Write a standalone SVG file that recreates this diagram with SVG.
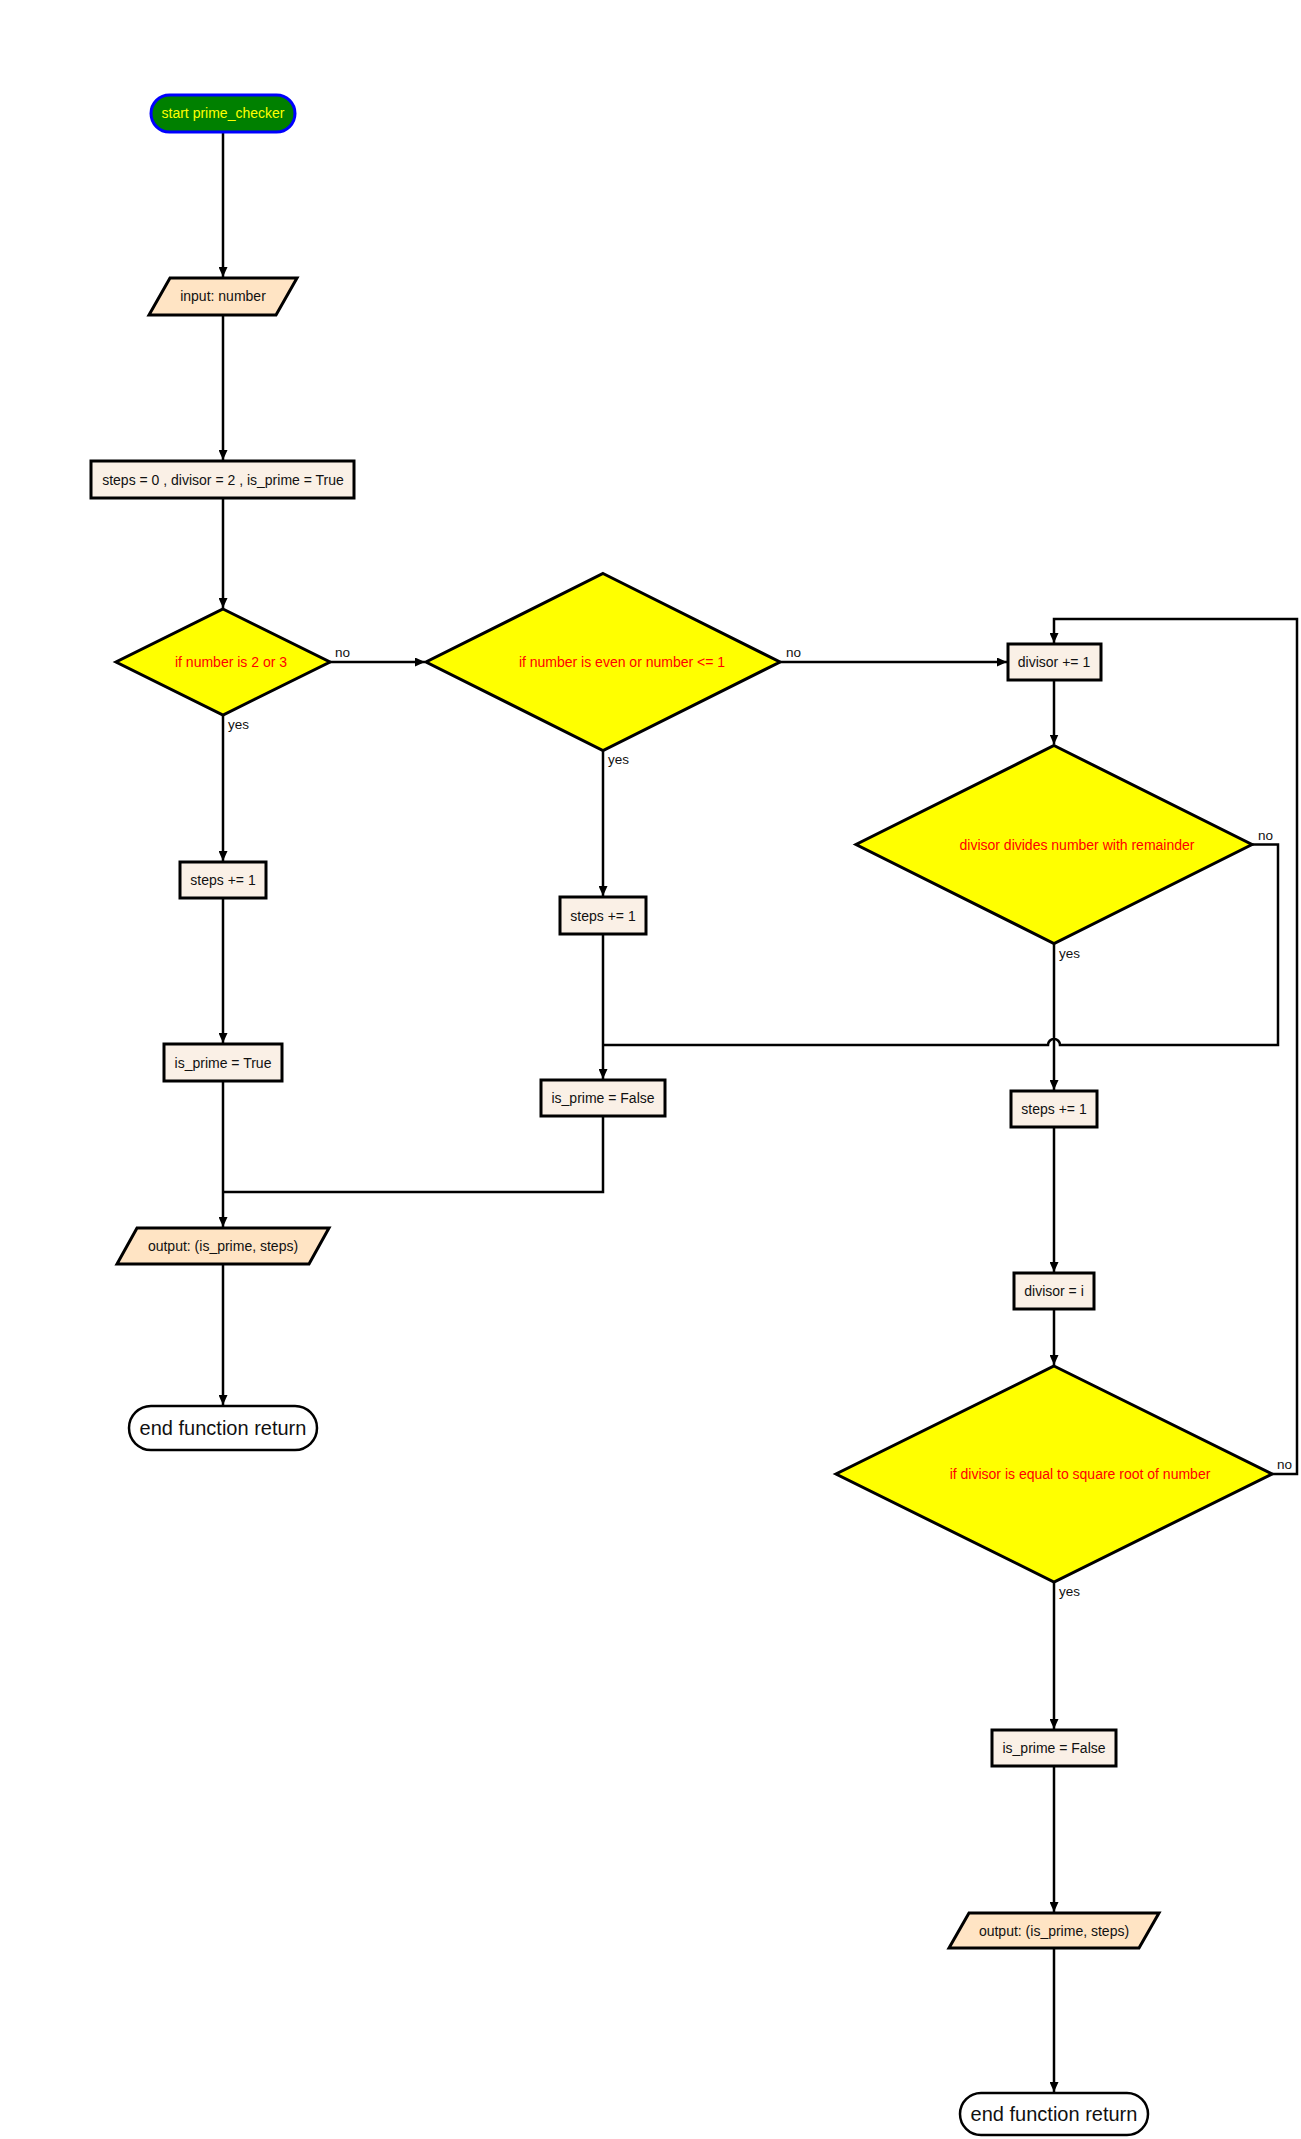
<svg xmlns="http://www.w3.org/2000/svg" width="1301" height="2139" viewBox="0 0 1301 2139">
  <style>
    .bg { fill: #ffffff; }
    .edge { fill: none; stroke: #000000; stroke-width: 2.5; }
    .proc { fill: #faf0e6; stroke: #000000; stroke-width: 3; }
    .io { fill: #ffe4c4; stroke: #000000; stroke-width: 3; }
    .dec { fill: #ffff00; stroke: #000000; stroke-width: 3; }
    .term-start { fill: #008000; stroke: #0000ff; stroke-width: 3; }
    .term-end { fill: #ffffff; stroke: #000000; stroke-width: 2.5; }
    text { font-family: "Liberation Sans", Arial, sans-serif; font-size: 14px; fill: #111111; }
    .mid { text-anchor: middle; }
    .cond { fill: #ff0000; }
    .startlbl { fill: #ffff00; }
    .endlbl { font-size: 20px; }
    .lbl { font-size: 13.5px; }
  </style>
  <defs>
    <marker id="arrow" markerUnits="userSpaceOnUse" markerWidth="10" markerHeight="9" refX="10" refY="4.5" orient="auto">
      <path d="M0,0 L10,4.5 L0,9 z" fill="#000000"/>
    </marker>
  </defs>

  <rect class="bg" x="0" y="0" width="1301" height="2139"/>

  <!-- connectors -->
  <g id="connectors">
    <path class="edge" d="M223,132 V277" marker-end="url(#arrow)"/>
    <path class="edge" d="M223,315 V460" marker-end="url(#arrow)"/>
    <path class="edge" d="M223,498 V608" marker-end="url(#arrow)"/>
    <path class="edge" d="M330,662 H425" marker-end="url(#arrow)"/>
    <path class="edge" d="M223,715 V861" marker-end="url(#arrow)"/>
    <path class="edge" d="M223,898 V1043" marker-end="url(#arrow)"/>
    <path class="edge" d="M223,1081 V1227" marker-end="url(#arrow)"/>
    <path class="edge" d="M223,1264 V1405" marker-end="url(#arrow)"/>
    <path class="edge" d="M780,662 H1007" marker-end="url(#arrow)"/>
    <path class="edge" d="M603,750.5 V896" marker-end="url(#arrow)"/>
    <path class="edge" d="M603,934 V1079" marker-end="url(#arrow)"/>
    <path class="edge" d="M603,1116 V1192 H223"/>
    <path class="edge" d="M1054,680 V744.5" marker-end="url(#arrow)"/>
    <path class="edge" d="M1252,844.5 H1278 V1045 H1060 A6,6 0 0 0 1048,1045 H603"/>
    <path class="edge" d="M1054,943.5 V1090" marker-end="url(#arrow)"/>
    <path class="edge" d="M1054,1127 V1272" marker-end="url(#arrow)"/>
    <path class="edge" d="M1054,1309 V1365" marker-end="url(#arrow)"/>
    <path class="edge" d="M1272,1474 H1297 V619 H1054 V643" marker-end="url(#arrow)"/>
    <path class="edge" d="M1054,1582 V1729" marker-end="url(#arrow)"/>
    <path class="edge" d="M1054,1766 V1912" marker-end="url(#arrow)"/>
    <path class="edge" d="M1054,1948 V2092" marker-end="url(#arrow)"/>

    <text class="lbl" x="335" y="657">no</text>
    <text class="lbl" x="228" y="729">yes</text>
    <text class="lbl" x="786" y="657">no</text>
    <text class="lbl" x="608" y="764">yes</text>
    <text class="lbl" x="1258" y="839.5">no</text>
    <text class="lbl" x="1059" y="957.5">yes</text>
    <text class="lbl" x="1277" y="1469">no</text>
    <text class="lbl" x="1059" y="1596">yes</text>
  </g>

  <!-- nodes -->
  <g id="start">
    <rect class="term-start" x="151" y="95" width="144" height="37" rx="18.5"/>
    <text class="mid startlbl" x="223" y="118">start prime_checker</text>
  </g>
  <g id="input">
    <polygon class="io" points="170,278 297,278 276,315 149,315"/>
    <text class="mid" x="223" y="301">input: number</text>
  </g>
  <g id="init">
    <rect class="proc" x="91" y="461" width="263" height="37"/>
    <text class="mid" x="223" y="484.5">steps = 0 , divisor = 2 , is_prime = True</text>
  </g>
  <g id="check_small">
    <polygon class="dec" points="223,609 330,662 223,715 116,662"/>
    <text class="mid cond" x="231" y="667">if number is 2 or 3</text>
  </g>
  <g id="steps_a">
    <rect class="proc" x="180" y="862" width="86" height="36"/>
    <text class="mid" x="223" y="885">steps += 1</text>
  </g>
  <g id="prime_true">
    <rect class="proc" x="164" y="1044" width="118" height="37"/>
    <text class="mid" x="223" y="1067.5">is_prime = True</text>
  </g>
  <g id="output_a">
    <polygon class="io" points="137,1228 329,1228 309,1264 117,1264"/>
    <text class="mid" x="223" y="1251">output: (is_prime, steps)</text>
  </g>
  <g id="end_a">
    <rect class="term-end" x="129" y="1406" width="188" height="44" rx="22"/>
    <text class="mid endlbl" x="223" y="1435">end function return</text>
  </g>

  <g id="check_even">
    <polygon class="dec" points="603,573.5 780,662 603,750.5 426,662"/>
    <text class="mid cond" x="622" y="667">if number is even or number &lt;= 1</text>
  </g>
  <g id="steps_b">
    <rect class="proc" x="560" y="897" width="86" height="37"/>
    <text class="mid" x="603" y="920.5">steps += 1</text>
  </g>
  <g id="prime_false_b">
    <rect class="proc" x="541" y="1080" width="124" height="36"/>
    <text class="mid" x="603" y="1103">is_prime = False</text>
  </g>

  <g id="divisor_inc">
    <rect class="proc" x="1008" y="644" width="93" height="36"/>
    <text class="mid" x="1054" y="667">divisor += 1</text>
  </g>
  <g id="check_remainder">
    <polygon class="dec" points="1054,745.5 1252,844.5 1054,943.5 856,844.5"/>
    <text class="mid cond" x="1077" y="849.5">divisor divides number with remainder</text>
  </g>
  <g id="steps_c">
    <rect class="proc" x="1011" y="1091" width="86" height="36"/>
    <text class="mid" x="1054" y="1114">steps += 1</text>
  </g>
  <g id="divisor_set">
    <rect class="proc" x="1014" y="1273" width="80" height="36"/>
    <text class="mid" x="1054" y="1296">divisor = i</text>
  </g>
  <g id="check_sqrt">
    <polygon class="dec" points="1054,1366 1272,1474 1054,1582 836,1474"/>
    <text class="mid cond" x="1080" y="1479">if divisor is equal to square root of number</text>
  </g>
  <g id="prime_false_c">
    <rect class="proc" x="992" y="1730" width="124" height="36"/>
    <text class="mid" x="1054" y="1753">is_prime = False</text>
  </g>
  <g id="output_c">
    <polygon class="io" points="969,1913 1159,1913 1139,1948 949,1948"/>
    <text class="mid" x="1054" y="1935.5">output: (is_prime, steps)</text>
  </g>
  <g id="end_c">
    <rect class="term-end" x="960" y="2093" width="188" height="42" rx="21"/>
    <text class="mid endlbl" x="1054" y="2121">end function return</text>
  </g>
</svg>
